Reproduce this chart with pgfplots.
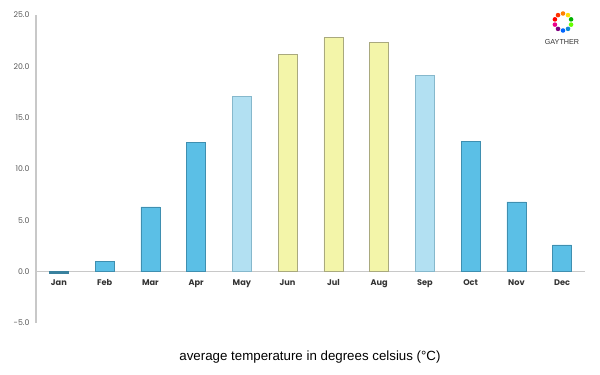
\documentclass[border=0pt]{standalone}
\usepackage{pgfplots}
\pgfplotsset{compat=1.18}
\usepackage{fontspec}
\setmainfont{Poppins}
\newfontfamily\arialf{Liberation Sans}
\definecolor{barblue}{HTML}{5BBFE6}
\definecolor{edgeblue}{HTML}{3F8FB0}
\definecolor{barlight}{HTML}{B2E0F2}
\definecolor{edgelight}{HTML}{86B8CC}
\definecolor{baryel}{HTML}{F3F5A9}
\definecolor{edgeyel}{HTML}{A9A97E}
\definecolor{axgray}{HTML}{C8C8C8}
\begin{document}
\begin{tikzpicture}[x=1pt,y=1pt]
\useasboundingbox (0,0) rectangle (600,375);
\begin{axis}[
  at={(36pt,52pt)}, anchor=south west,
  scale only axis, width=549pt, height=308pt,
  xmin=-0.5, xmax=11.5, ymin=-5, ymax=25,
  axis x line=middle, axis y line=left,
  axis line style={-, draw=axgray, line width=1.2pt},
  xtick={0,...,11},
  xticklabels={Jan,Feb,Mar,Apr,May,Jun,Jul,Aug,Sep,Oct,Nov,Dec},
  ytick={-5,0,5,10,15,20,25},
  major tick length=0pt,
  yticklabel style={font=\fontsize{7.8}{9}\selectfont, text=black!65, xshift=-3pt},
  xticklabel style={font=\fontsize{8.2}{10}\selectfont\bfseries, text=black!80, yshift=-4pt, text height=6pt, text depth=2pt, anchor=north},
  /pgf/number format/assume math mode=true,
  /pgf/number format/fixed, /pgf/number format/fixed zerofill, /pgf/number format/precision=1,
  clip=false,
]
\addplot[ybar, bar width=19pt, bar shift=0pt, fill=barblue, draw=edgeblue, line width=0.6pt]
  coordinates {(1,1.0) (2,6.3) (3,12.6) (9,12.7) (10,6.8) (11,2.6)};
\addplot[ybar, bar width=19pt, bar shift=0pt, fill=edgeblue!90!black, draw=edgeblue!90!black, line width=0.6pt]
  coordinates {(0,-0.2)};
\addplot[ybar, bar width=19pt, bar shift=0pt, fill=barlight, draw=edgelight, line width=0.6pt]
  coordinates {(4,17.1) (8,19.1)};
\addplot[ybar, bar width=19pt, bar shift=0pt, fill=baryel, draw=edgeyel, line width=0.6pt]
  coordinates {(5,21.2) (6,22.8) (7,22.3)};
\end{axis}
\node[font=\arialf\fontsize{13.3}{15}\selectfont, text=black] at (310,18) {average temperature in degrees celsius (°C)};
% logo
\foreach \a/\c in {90/orange,54/yellow!80!orange,18/green!70!black,-18/green!60!yellow,-54/cyan!70!blue,-90/blue!60!cyan,-126/violet,-162/magenta,162/red,126/red!60!orange}{
  \fill[\c] (563,353) ++(\a:8.5) circle (2.3);
}
\node[font=\arialf\fontsize{7.2}{8}\selectfont, text=black!80] at (562,333) {GAYTHER};
\end{tikzpicture}
\end{document}
